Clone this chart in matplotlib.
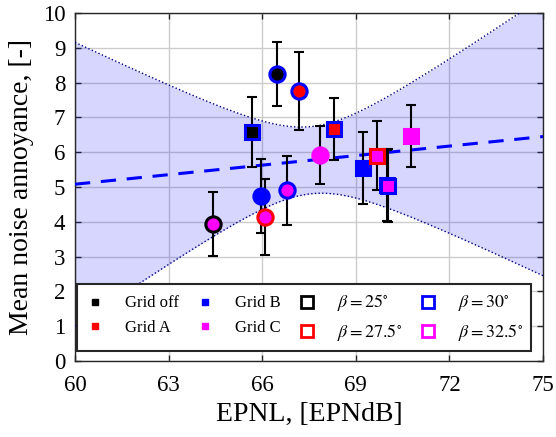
import numpy as np
import matplotlib
matplotlib.use('Agg')
import matplotlib.pyplot as plt
from matplotlib.lines import Line2D

plt.rcParams['font.family'] = ['Liberation Serif', 'DejaVu Serif']
plt.rcParams['mathtext.fontset'] = 'stix'

# data
epnl = [70.00, 64.43, 65.96, 66.10, 66.80, 65.67, 66.48, 67.17, 68.31, 67.85, 69.24, 69.67, 70.04, 70.77]
annoy = [5.05, 3.93, 4.74, 4.15, 4.90, 6.59, 8.25, 7.76, 6.67, 5.92, 5.54, 5.90, 5.04, 6.47]
err = [1.02, 0.92, 1.07, 1.09, 0.98, 1.01, 0.93, 1.13, 0.89, 0.83, 1.04, 0.99, 1.04, 0.89]
grid = ['off', 'C', 'B', 'C', 'C', 'off', 'off', 'A', 'A', 'C', 'B', 'C', 'C', 'C']
beta = [30, 25, 30, 27.5, 30, 30, 30, 30, 30, 32.5, 30, 27.5, 30, 32.5]
shape = ['s', 'o', 'o', 'o', 'o', 's', 'o', 'o', 's', 'o', 's', 's', 's', 's']

grid_colors = {'off': 'black', 'A': 'red', 'B': 'blue', 'C': 'magenta'}
beta_colors = {25: 'black', 27.5: 'red', 30: 'blue', 32.5: 'magenta'}

# regression line and band
fit_intercept = 5.08   # value at EPNL = 60
fit_slope = 0.0913
band_scale = 3.48

xs = np.linspace(60, 75, 300)
fit = fit_intercept + fit_slope * (xs - 60)
xd = np.array(epnl[1:])
xm = xd.mean()
sxx = ((xd - xm) ** 2).sum()
hw = band_scale * np.sqrt(1 / len(xd) + (xs - xm) ** 2 / sxx)

fig = plt.figure(figsize=(5.56, 4.37), dpi=100)
ax = fig.add_axes([75 / 556, 1 - 361 / 437, 468 / 556, 348 / 437])

ax.fill_between(xs, fit - hw, fit + hw, color=(0, 0, 1), alpha=0.16, lw=0, zorder=2)
ax.plot(xs, fit + hw, ':', color='#000080', lw=1.0, zorder=3)
ax.plot(xs, fit - hw, ':', color='#000080', lw=1.0, zorder=3)
ax.plot(xs, fit, '--', color='blue', lw=2.2, dashes=(5, 3.5), zorder=3)

for i in range(len(epnl)):
    ax.errorbar(epnl[i], annoy[i], yerr=err[i], fmt='none', ecolor='black',
                elinewidth=1.5, capsize=3.5, capthick=1.5, zorder=4)
for i in range(len(epnl)):
    ms = 11 if shape[i] == 'o' else 10
    ax.plot(epnl[i], annoy[i], shape[i], ms=ms, mfc=grid_colors[grid[i]],
            mec=beta_colors[beta[i]], mew=2.2, zorder=5)

ax.set_xlim(60, 75)
ax.set_ylim(0, 10)
ax.set_xticks(np.arange(60, 76, 3))
ax.set_yticks(np.arange(0, 11, 1))
ax.grid(True, color='#cccccc', lw=1.0, zorder=0)
ax.set_axisbelow(True)
ax.tick_params(direction='in', top=True, right=True, length=4, width=1,
               labelsize=16.5, color='#262626')
ax.tick_params(axis='x', pad=10)
ax.tick_params(axis='y', pad=7)
for s in ax.spines.values():
    s.set_color('#262626')
    s.set_linewidth(1.0)
ax.set_xlabel('EPNL, [EPNdB]', fontsize=20, labelpad=4)
ax.set_ylabel('Mean noise annoyance, [-]', fontsize=20, labelpad=6)

handles = [
    Line2D([], [], ls='none', marker='s', ms=5, mfc='black', mec='black'),
    Line2D([], [], ls='none', marker='s', ms=5, mfc='red', mec='red'),
    Line2D([], [], ls='none', marker='s', ms=5, mfc='blue', mec='blue'),
    Line2D([], [], ls='none', marker='s', ms=5, mfc='magenta', mec='magenta'),
    Line2D([], [], ls='none', marker='s', ms=9, mfc='white', mec='black', mew=2),
    Line2D([], [], ls='none', marker='s', ms=9, mfc='white', mec='red', mew=2),
    Line2D([], [], ls='none', marker='s', ms=9, mfc='white', mec='blue', mew=2),
    Line2D([], [], ls='none', marker='s', ms=9, mfc='white', mec='magenta', mew=2),
]
labels = ['Grid off', 'Grid A', 'Grid B', 'Grid C',
          r'$\beta = 25^{\circ}$', r'$\beta = 27.5^{\circ}$',
          r'$\beta = 30^{\circ}$', r'$\beta = 32.5^{\circ}$']
leg = ax.legend(handles, labels, ncol=4, loc='lower left', mode='expand',
                bbox_to_anchor=(77 / 556, 1 - 351 / 437, 454 / 556, 59 / 437),
                bbox_transform=fig.transFigure, borderaxespad=0, fontsize=12,
                fancybox=False, framealpha=1, edgecolor='#262626',
                handlelength=1.2, handletextpad=1.2, borderpad=0.5,
                labelspacing=0.5, columnspacing=1.0)
for t in leg.get_texts()[4:]:
    t.set_fontsize(13)
leg.get_frame().set_linewidth(1.5)
leg.set_zorder(10)

fig.savefig('out.png', dpi=100)
